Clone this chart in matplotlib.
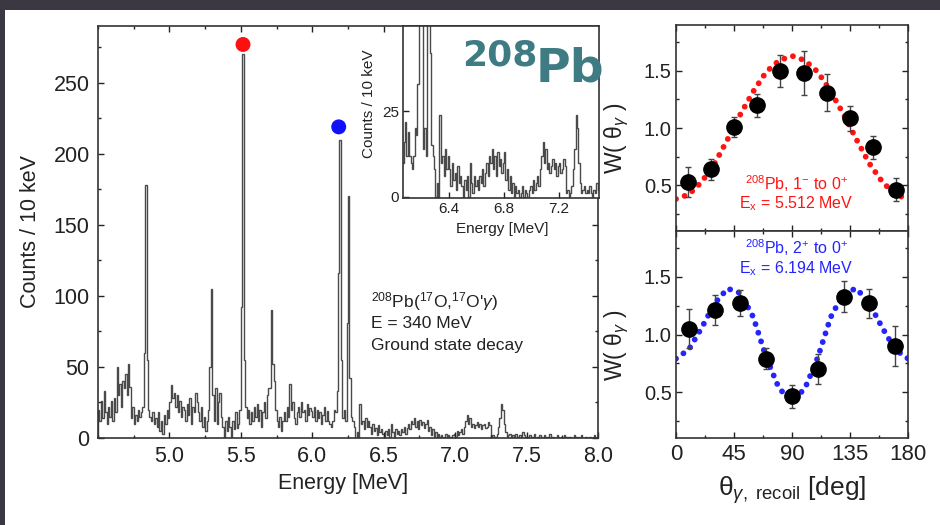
import matplotlib.pyplot as plt
import numpy as np
from matplotlib.ticker import MultipleLocator
from matplotlib.patches import Rectangle

plt.rcParams["font.family"] = ["Liberation Sans", "DejaVu Sans"]
plt.rcParams["mathtext.fontset"] = "custom"
plt.rcParams["mathtext.rm"] = "Liberation Sans"
plt.rcParams["mathtext.it"] = "Liberation Sans:italic"
plt.rcParams["mathtext.bf"] = "Liberation Sans:bold"

# gamma spectrum, 10 keV bins starting at 4.50 MeV (one row = 0.1 MeV)
bin_start = 4.50
bin_width = 0.01
counts = [
    20, 12, 26, 14, 33, 18, 10, 22, 15, 26,   # 4.5
    12, 28, 18, 50, 30, 38, 22, 40, 35, 45,   # 4.6
    30, 52, 36, 14, 22, 10, 16, 12, 20, 15,   # 4.7
    18, 22, 60, 178, 55, 20, 15, 12, 18, 10,  # 4.8
    14, 8, 18, 5, 12, 3, 16, 10, 20, 14,      # 4.9
    25, 37, 28, 32, 22, 30, 18, 26, 15, 22,   # 5.0
    20, 12, 24, 16, 28, 10, 22, 18, 32, 25,   # 5.1
    18, 12, 22, 8, 15, 5, 12, 20, 50, 105,    # 5.2
    30, 12, 35, 10, 25, 32, 15, 8, 0, 12,     # 5.3
    5, 15, 8, 0, 12, 6, 18, 7, 10, 20,        # 5.4
    92, 270, 55, 22, 14, 20, 10, 18, 12, 22,  # 5.5
    15, 24, 12, 20, 8, 18, 25, 14, 30, 35,    # 5.6
    35, 90, 52, 40, 20, 12, 8, 15, 5, 12,     # 5.7
    18, 12, 22, 15, 38, 20, 25, 14, 10, 18,   # 5.8
    22, 15, 25, 18, 20, 12, 24, 16, 21, 19,   # 5.9
    15, 22, 12, 20, 14, 18, 10, 16, 22, 12,   # 6.0
    19, 12, 10, 8, 12, 20, 18, 33, 116, 210,  # 6.1
    55, 14, 20, 12, 81, 170, 42, 15, 12, 8,   # 6.2
    0, 4, 0, 24, 10, 12, 6, 14, 8, 12,        # 6.3
    8, 3, 10, 5, 7, 2, 9, 4, 6, 3,            # 6.4
    0, 5, 2, 6, 0, 10, 4, 1, 6, 3,            # 6.5
    5, 2, 6, 4, 8, 3, 7, 10, 6, 12,           # 6.6
    10, 14, 8, 12, 6, 13, 9, 11, 7, 10,       # 6.7
    13, 5, 8, 2, 6, 1, 4, 0, 3, 1,            # 6.8
    2, 0, 1, 3, 0, 2, 1, 0, 2, 3,             # 6.9
    1, 5, 2, 4, 6, 3, 8, 12, 16, 10,          # 7.0
    14, 8, 10, 7, 9, 11, 8, 10, 6, 9,         # 7.1
    10, 7, 8, 11, 9, 1, 2, 0, 1, 3,           # 7.2
    8, 14, 24, 20, 10, 4, 1, 2, 3, 1,         # 7.3
    2, 1, 3, 1, 0, 2, 1, 4, 2, 1,             # 7.4
    0, 1, 2, 0, 1, 3, 0, 1, 0, 2,             # 7.5
    1, 0, 2, 1, 0, 1, 3, 0, 1, 0,             # 7.6
    0, 2, 1, 0, 1, 0, 2, 1, 0, 1,             # 7.7
    1, 0, 0, 2, 1, 0, 1, 0, 2, 0,             # 7.8
    0, 1, 0, 0, 1, 0, 0, 2, 0, 1,             # 7.9
]
energy_ticks = [5.0, 5.5, 6.0, 6.5, 7.0, 7.5, 8.0]

# coloured markers above the two peaks
peak_E = [5.515, 6.185]
peak_y = [277, 219]
peak_colors = ["#ff1010", "#1010ff"]

# angular distributions
theta_1 = [9, 27, 45, 63, 81, 99, 117, 135, 153, 171]
w_1 = [0.53, 0.64, 1.01, 1.20, 1.50, 1.48, 1.31, 1.085, 0.83, 0.46]
err_1 = [0.13, 0.09, 0.09, 0.10, 0.14, 0.19, 0.16, 0.11, 0.10, 0.10]

theta_2 = [10, 30, 50, 70, 90, 110, 130, 150, 170]
w_2 = [1.05, 1.21, 1.275, 0.79, 0.465, 0.70, 1.33, 1.27, 0.90]
err_2 = [0.17, 0.13, 0.11, 0.09, 0.10, 0.13, 0.135, 0.13, 0.17]

# fitted curves read every 10 deg
fit_theta = [0, 10, 20, 30, 40, 50, 60, 70, 80, 90,
             100, 110, 120, 130, 140, 150, 160, 170, 180]
fit_1 = [0.38, 0.42, 0.53, 0.69, 0.90, 1.12, 1.32, 1.49, 1.59, 1.63,
         1.59, 1.49, 1.32, 1.12, 0.90, 0.69, 0.53, 0.42, 0.38]
fit_2 = [0.79, 0.87, 1.06, 1.27, 1.40, 1.36, 1.15, 0.80, 0.53, 0.42,
         0.53, 0.80, 1.15, 1.36, 1.40, 1.27, 1.06, 0.87, 0.79]

ink = "#222222"


def style_axes(ax, size):
    ax.tick_params(which="both", direction="in", top=True, right=True,
                   colors=ink, labelsize=size, width=1)
    ax.tick_params(which="major", length=4.5)
    ax.tick_params(which="minor", length=2.5)
    for s in ax.spines.values():
        s.set_linewidth(1.2)
        s.set_color("#333333")


fig = plt.figure(figsize=(9.4, 5.25), dpi=100)
fig.patch.set_facecolor("#3c3842")
fig.patches.append(Rectangle((5 / 940, 0), 1, 515 / 525, transform=fig.transFigure,
                             facecolor="white", edgecolor="none", zorder=-10))

edges = bin_start + bin_width * np.arange(len(counts) + 1)

# main spectrum
ax = fig.add_axes([98 / 940, 87 / 525, 500 / 940, 412 / 525])
ax.stairs(counts, edges, color="#4a4a4a", lw=1.0)
ax.scatter(peak_E, peak_y, s=95, c=peak_colors, zorder=5)
ax.set_xlim(4.5, 8.0)
ax.set_ylim(0, 290)
ax.set_xticks(energy_ticks)
ax.xaxis.set_minor_locator(MultipleLocator(0.25))
ax.yaxis.set_major_locator(MultipleLocator(50))
ax.yaxis.set_minor_locator(MultipleLocator(25))
ax.xaxis.set_major_formatter(lambda v, p: f"{v:.1f}")
style_axes(ax, 15.5)
ax.tick_params(which="both", pad=6)
ax.set_xlabel("Energy [MeV]", fontsize=15.5, color=ink)
ax.set_ylabel("Counts / 10 keV", fontsize=15.5, color=ink)
ax.xaxis.set_label_coords(0.49, -0.085)
ax.yaxis.set_label_coords(-0.113, 0.5)
ax.text(0.546, 0.318, r"$^{208}$Pb($^{17}$O,$^{17}$O'$\gamma$)", transform=ax.transAxes,
        fontsize=12.5, color=ink)
ax.text(0.546, 0.266, "E = 340 MeV", transform=ax.transAxes, fontsize=12.5, color=ink)
ax.text(0.546, 0.213, "Ground state decay", transform=ax.transAxes, fontsize=12.5, color=ink)

# inset
ins = fig.add_axes([403 / 940, 327 / 525, 196 / 940, 172 / 525])
ins.stairs(counts, edges, color="#4a4a4a", lw=1.0)
ins.set_xlim(6.065, 7.49)
ins.set_ylim(-0.4, 50)
ins.set_xticks([6.4, 6.8, 7.2])
ins.set_yticks([0, 25])
style_axes(ins, 11)
ins.tick_params(which="both", top=False, right=False, pad=3)
ins.set_xlabel("Energy [MeV]", fontsize=11, color=ink)
ins.set_ylabel("Counts / 10 keV", fontsize=11, color=ink)
ins.xaxis.set_label_coords(0.505, -0.14)
ins.yaxis.set_label_coords(-0.138, 0.55)

# big label
fig.text(462 / 940, 1 - 65 / 525, "208", fontsize=26, color="#3e7b83",
         fontfamily="DejaVu Sans", fontweight="bold", va="baseline")
fig.text(536 / 940, 1 - 82 / 525, "Pb", fontsize=34, color="#3e7b83",
         fontfamily="DejaVu Sans", fontweight="bold", va="baseline")

# angular distributions
ax1 = fig.add_axes([676 / 940, 294 / 525, 232 / 940, 206 / 525])
ax2 = fig.add_axes([676 / 940, 87 / 525, 232 / 940, 207 / 525])
panels = [
    (ax1, theta_1, w_1, err_1, fit_1, "#ff1414",
     r"$^{208}$Pb, 1$^{-}$ to 0$^{+}$", "E$_\mathregular{x}$ = 5.512 MeV", 0.20, 0.11),
    (ax2, theta_2, w_2, err_2, fit_2, "#2424ff",
     r"$^{208}$Pb, 2$^{+}$ to 0$^{+}$", "E$_\mathregular{x}$ = 6.194 MeV", 0.89, 0.795),
]
for a, th, w, e, fit, col, t1, t2, y1, y2 in panels:
    a.plot(fit_theta, fit, color=col, lw=4.2, linestyle=(0, (0.01, 1.55)),
           dash_capstyle="round", zorder=2)
    a.errorbar(th, w, yerr=e, fmt="o", color="black", ms=11, ecolor="#444444",
               elinewidth=1, capsize=2.5, capthick=1, zorder=3)
    a.set_xlim(0, 180)
    a.set_ylim(0.1, 1.9)
    a.xaxis.set_major_locator(MultipleLocator(45))
    a.xaxis.set_minor_locator(MultipleLocator(22.5))
    a.yaxis.set_major_locator(MultipleLocator(0.5))
    a.yaxis.set_minor_locator(MultipleLocator(0.25))
    style_axes(a, 15)
    a.tick_params(axis="y", pad=3, labelsize=14.5)
    a.tick_params(axis="x", pad=4, labelsize=16)
    a.set_ylabel(r"W( θ$_\gamma$ )", fontsize=16.5, color=ink)
    a.yaxis.set_label_coords(-0.194, 0.45)
    a.text(0.52, y1, t1, transform=a.transAxes, color=col, fontsize=11.5, ha="center")
    a.text(0.52, y2, t2, transform=a.transAxes, color=col, fontsize=11.5, ha="center")

ax1.tick_params(labelbottom=False)
ax2.set_xlabel(r"θ$_{\gamma,\ \mathregular{recoil}}$ [deg]", fontsize=19, color=ink)
ax2.xaxis.set_label_coords(0.5, -0.175)

fig.savefig("out.png", dpi=100, facecolor=fig.get_facecolor())
